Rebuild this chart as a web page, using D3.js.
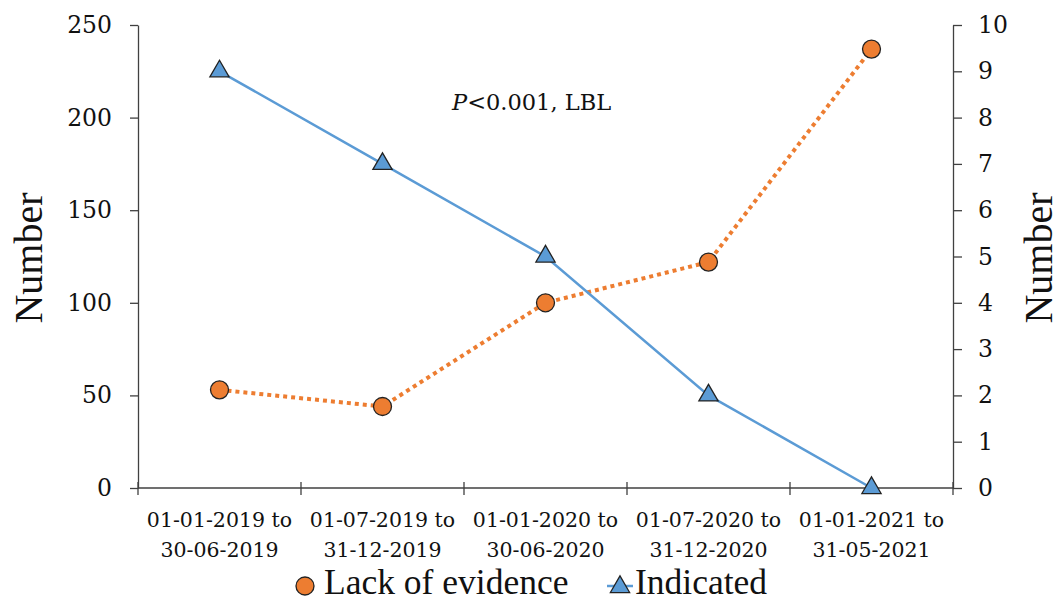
<!DOCTYPE html>
<html>
<head>
<meta charset="utf-8">
<script src="https://cdn.jsdelivr.net/npm/d3@7"></script>
<style>
  html, body { margin: 0; padding: 0; background: #fff; }
  svg { display: block; }
</style>
</head>
<body>
<svg id="chart" width="1060" height="603"></svg>
<script>
// Period categories (two-line labels)
const periods = [
  ["01-01-2019 to", "30-06-2019"],
  ["01-07-2019 to", "31-12-2019"],
  ["01-01-2020 to", "30-06-2020"],
  ["01-07-2020 to", "31-12-2020"],
  ["01-01-2021 to", "31-05-2021"]
];
// Left axis series
const lackOfEvidence = [53, 44, 100, 122, 237];
// Right axis series
const indicated = [9, 7, 5, 2, 0];
const leftTicks = [0, 50, 100, 150, 200, 250];
const rightTicks = [0, 1, 2, 3, 4, 5, 6, 7, 8, 9, 10];

const ORANGE = "#ED7D31", BLUE = "#5B9BD5", AXIS = "#404040";
const tickFont = "'DejaVu Serif', Georgia, serif";
const titleFont = "'Liberation Serif', 'Times New Roman', serif";

const svg = d3.select("#chart");
const plotL = 138, plotR = 953, plotT = 25, plotB = 488;

const x = d3.scaleBand().domain(d3.range(periods.length)).range([plotL, plotR]);
const yL = d3.scaleLinear().domain([0, 250]).range([plotB, plotT]);
const yR = d3.scaleLinear().domain([0, 10]).range([plotB, plotT]);
const cx = i => x(i) + x.bandwidth() / 2;

// Left axis
const gL = svg.append("g").attr("transform", `translate(${plotL},0)`)
  .call(d3.axisLeft(yL).tickValues(leftTicks).tickSize(8).tickSizeOuter(0).tickPadding(18));
// Right axis
const gR = svg.append("g").attr("transform", `translate(${plotR},0)`)
  .call(d3.axisRight(yR).tickValues(rightTicks).tickSize(9).tickSizeOuter(0).tickPadding(16));
[gL, gR].forEach(g => {
  g.select(".domain").attr("stroke", AXIS).attr("stroke-width", 1.3);
  g.selectAll(".tick line").attr("stroke", AXIS).attr("stroke-width", 1.3);
  g.selectAll(".tick text").attr("font-family", tickFont).attr("font-size", 23.5).attr("fill", "#111");
});

// X axis with crossing ticks at band boundaries
const gX = svg.append("g");
gX.append("line").attr("x1", plotL).attr("x2", plotR).attr("y1", plotB).attr("y2", plotB)
  .attr("stroke", AXIS).attr("stroke-width", 1.3);
const bounds = d3.range(periods.length + 1).map(i => i < periods.length ? x(i) : plotR);
gX.selectAll("line.xt").data(bounds).join("line").attr("class", "xt")
  .attr("x1", d => d).attr("x2", d => d).attr("y1", plotB - 6).attr("y2", plotB + 7)
  .attr("stroke", AXIS).attr("stroke-width", 1.3);
const xl = gX.selectAll("text.xl").data(periods).join("text").attr("class", "xl")
  .attr("text-anchor", "middle").attr("font-family", tickFont).attr("font-size", 20.5).attr("fill", "#111");
xl.append("tspan").attr("x", (d, i) => cx(i)).attr("y", 527).text(d => d[0]);
xl.append("tspan").attr("x", (d, i) => cx(i)).attr("y", 557).text(d => d[1]);

// Axis titles
svg.append("text").attr("transform", `translate(42,258) rotate(-90)`)
  .attr("text-anchor", "middle").attr("font-family", titleFont).attr("font-size", 40).attr("fill", "#111")
  .text("Number");
svg.append("text").attr("transform", `translate(1052,258) rotate(-90)`)
  .attr("text-anchor", "middle").attr("font-family", titleFont).attr("font-size", 40).attr("fill", "#111")
  .text("Number");

// Lines
svg.append("path").datum(lackOfEvidence)
  .attr("d", d3.line().x((d, i) => cx(i)).y(d => yL(d)))
  .attr("fill", "none").attr("stroke", ORANGE).attr("stroke-width", 4).attr("stroke-dasharray", "4 4");
svg.append("path").datum(indicated)
  .attr("d", d3.line().x((d, i) => cx(i)).y(d => yR(d)))
  .attr("fill", "none").attr("stroke", BLUE).attr("stroke-width", 2.5);

// Markers
const tri = d3.symbol().type(d3.symbolTriangle).size(160);
svg.selectAll("circle.le").data(lackOfEvidence).join("circle").attr("class", "le")
  .attr("cx", (d, i) => cx(i)).attr("cy", d => yL(d)).attr("r", 9)
  .attr("fill", ORANGE).attr("stroke", "#222").attr("stroke-width", 1.3);
svg.selectAll("path.ind").data(indicated).join("path").attr("class", "ind")
  .attr("d", tri).attr("transform", (d, i) => `translate(${cx(i)},${yR(d)})`)
  .attr("fill", BLUE).attr("stroke", "#222").attr("stroke-width", 1.3);

// Annotation
const ann = svg.append("text").attr("x", 452).attr("y", 110)
  .attr("font-family", tickFont).attr("font-size", 22.5).attr("fill", "#111");
ann.append("tspan").attr("font-style", "italic").text("P");
ann.append("tspan").text("<0.001, LBL");

// Legend
const lg = svg.append("g");
lg.append("line").attr("x1", 296).attr("x2", 314).attr("y1", 586).attr("y2", 586)
  .attr("stroke", ORANGE).attr("stroke-width", 3);
lg.append("circle").attr("cx", 305).attr("cy", 586).attr("r", 9)
  .attr("fill", ORANGE).attr("stroke", "#222").attr("stroke-width", 1.3);
lg.append("text").attr("x", 324).attr("y", 594).attr("font-family", titleFont).attr("font-size", 35.5)
  .attr("fill", "#111").text("Lack of evidence");
lg.append("line").attr("x1", 607).attr("x2", 633).attr("y1", 586).attr("y2", 586)
  .attr("stroke", BLUE).attr("stroke-width", 2.5);
lg.append("path").attr("d", tri).attr("transform", "translate(620,587)")
  .attr("fill", BLUE).attr("stroke", "#222").attr("stroke-width", 1.3);
lg.append("text").attr("x", 635).attr("y", 594).attr("font-family", titleFont).attr("font-size", 35.5)
  .attr("fill", "#111").text("Indicated");
</script>
</body>
</html>
